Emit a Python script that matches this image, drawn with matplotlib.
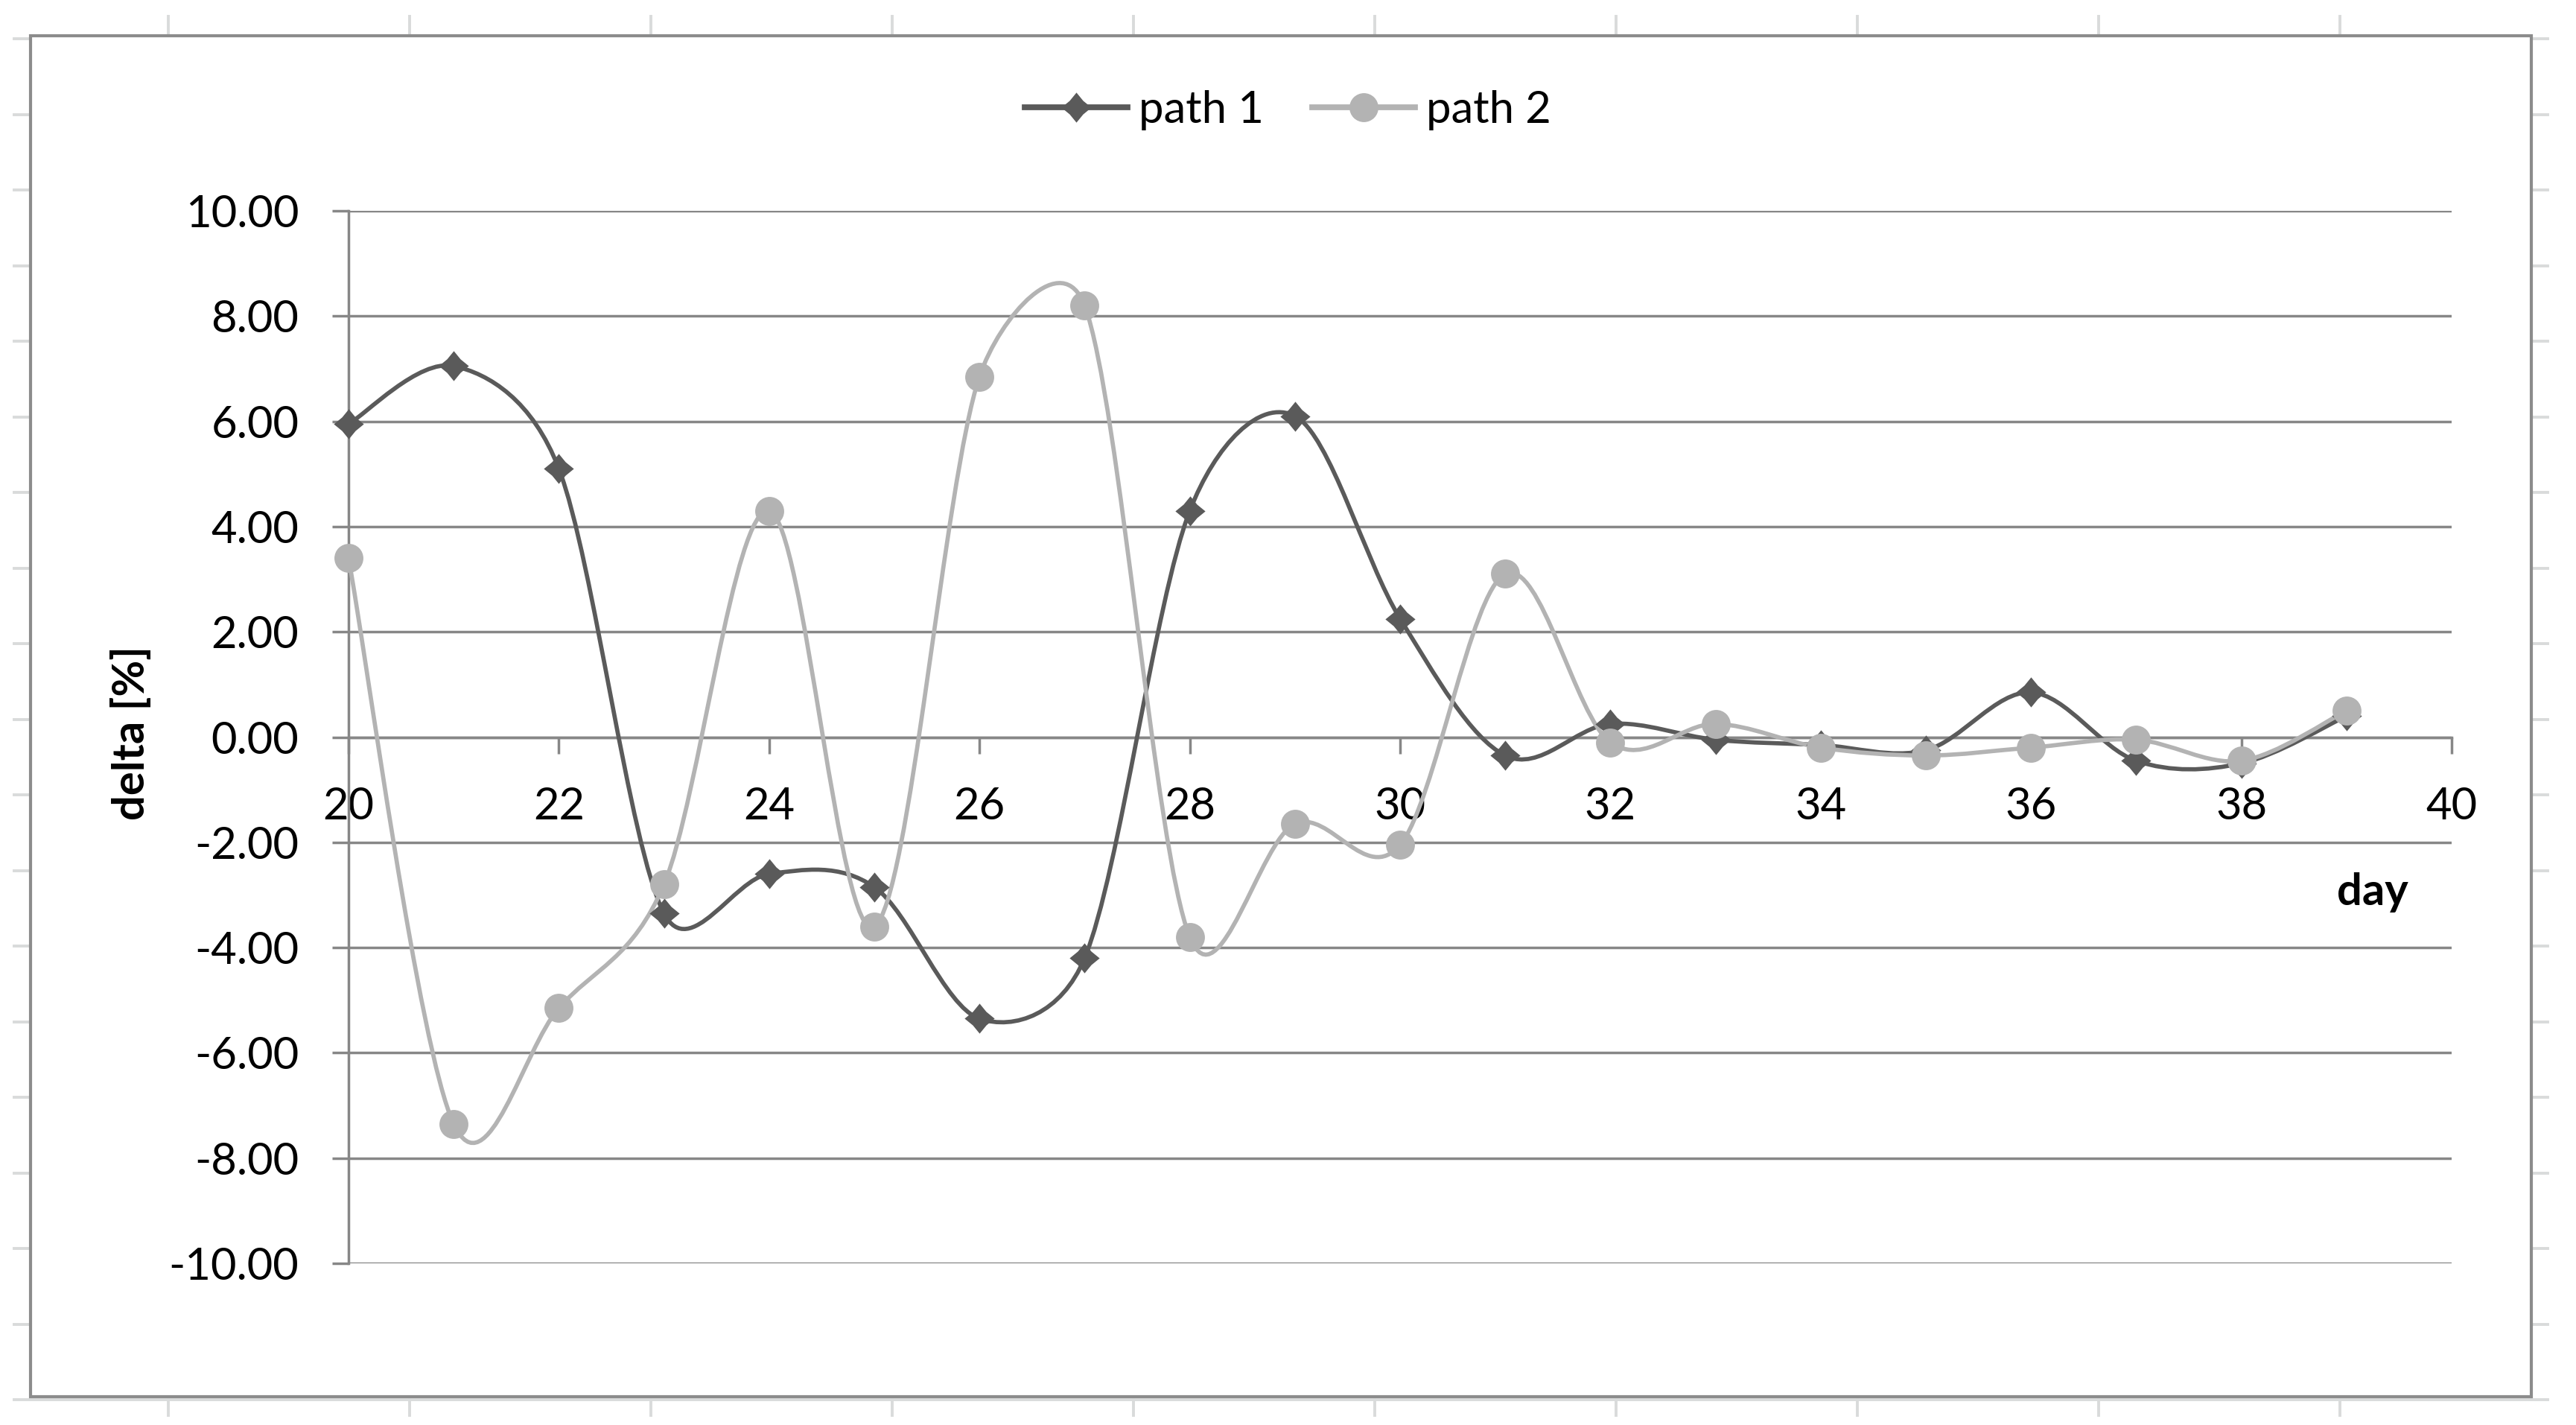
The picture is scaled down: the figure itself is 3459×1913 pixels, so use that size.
import numpy as np
import matplotlib
matplotlib.use("Agg")
import matplotlib.pyplot as plt
from matplotlib.path import Path
from matplotlib.patches import PathPatch, Rectangle
from matplotlib.lines import Line2D
from matplotlib.ticker import FormatStrFormatter, MultipleLocator

plt.rcParams['font.family'] = ['Lato', 'DejaVu Sans']
plt.rcParams['axes.unicode_minus'] = False

# data
days = [20, 21, 22, 23, 24, 25, 26, 27, 28, 29, 30, 31, 32, 33, 34, 35, 36, 37, 38, 39]
path_1 = [5.95, 7.05, 5.10, -3.35, -2.60, -2.85, -5.35, -4.20, 4.30, 6.10,
          2.25, -0.35, 0.25, -0.05, -0.15, -0.25, 0.85, -0.45, -0.50, 0.40]
path_2 = [3.40, -7.35, -5.15, -2.80, 4.30, -3.60, 6.85, 8.20, -3.80, -1.65,
          -2.05, 3.10, -0.10, 0.25, -0.20, -0.35, -0.20, -0.05, -0.45, 0.50]
series_names = ["path 1", "path 2"]

W, H = 3459, 1913
DPI = 200
GRAY = '#878787'
DARK = '#5a5a5a'
LIGHT = '#b3b3b3'
FS = 21.5

fig = plt.figure(figsize=(W / DPI, H / DPI), dpi=DPI)


def fx(px):
    return px / W


def fy(py):
    return 1 - py / H


# spreadsheet cells showing around the chart
sheet = '#d9dbdb'
for k in range(10):
    x = 226 + 324 * k
    fig.add_artist(Line2D([fx(x), fx(x)], [fy(22), fy(1900)], color=sheet, lw=1.4, zorder=-3))
for k in range(19):
    y = 52 + 101.5 * k
    fig.add_artist(Line2D([fx(19), fx(3421)], [fy(y), fy(y)], color=sheet, lw=1.4, zorder=-3))

# chart area
fig.add_artist(Rectangle((fx(41), fy(1875)), fx(3399) - fx(41), fy(48) - fy(1875),
                         facecolor='white', edgecolor='#8c8c8c', lw=1.5, zorder=-1))

ax = fig.add_axes([fx(468), fy(1696), fx(3292) - fx(468), fy(283) - fy(1696)])
ax.set_xlim(20, 40)
ax.set_ylim(-10, 10)
ax.patch.set_visible(False)

ax.xaxis.set_major_locator(MultipleLocator(2))
ax.yaxis.set_major_locator(MultipleLocator(2))
ax.yaxis.set_major_formatter(FormatStrFormatter('%.2f'))
ax.grid(axis='y', color=GRAY, lw=1.25)
ax.set_axisbelow(True)
for s in ['top', 'right']:
    ax.spines[s].set_visible(False)
ax.spines['bottom'].set_position(('data', 0))
for s in ['left', 'bottom']:
    ax.spines[s].set_color(GRAY)
    ax.spines[s].set_linewidth(1.25)
ax.tick_params(axis='both', direction='out', length=8, width=1.25, color=GRAY,
               labelsize=FS, pad=16, labelcolor='black')


def excel_smooth(xs, ys):
    # bezier curve like excel's smoothed line, built in screen space
    pts = ax.transData.transform(np.column_stack([xs, ys]))
    n = len(pts)
    verts = [pts[0]]
    codes = [Path.MOVETO]
    for i in range(n - 1):
        p0 = pts[max(i - 1, 0)]
        p1 = pts[i]
        p2 = pts[i + 1]
        p3 = pts[min(i + 2, n - 1)]
        half = np.hypot(*(p2 - p1)) / 2
        a1 = (p2 - p0) / 6
        a2 = (p3 - p1) / 6
        l1 = np.hypot(*a1)
        l2 = np.hypot(*a2)
        if l1 > half:
            a1 = a1 * half / l1
        if l2 > half:
            a2 = a2 * half / l2
        verts += [p1 + a1, p2 - a2, p2]
        codes += [Path.CURVE4] * 3
    verts = ax.transData.inverted().transform(np.array(verts))
    return Path(verts, codes)


# slightly pinched diamond, like excel's
q = 0.45
diamond = [(0, 1), (q, q), (1, 0), (q, -q), (0, -1), (-q, -q), (-1, 0), (-q, q), (0, 1)]

styles = [(path_1, DARK, diamond, 14.5), (path_2, LIGHT, 'o', 14)]
handles = []
for (vals, col, mk, ms), name in zip(styles, series_names):
    ax.add_patch(PathPatch(excel_smooth(days, vals), fill=False, edgecolor=col,
                           lw=2.05, capstyle='round', joinstyle='round', zorder=3))
    ax.plot(days, vals, linestyle='none', marker=mk, ms=ms, color=col,
            markeredgewidth=0, zorder=4, clip_on=False)
    handles.append(Line2D([], [], color=col, lw=2.8, marker=mk, ms=ms, markeredgewidth=0))

ax.legend(handles, series_names, loc='center', bbox_to_anchor=(0.5, fy(148)),
          bbox_transform=fig.transFigure, ncol=2, frameon=False, fontsize=FS,
          handlelength=2.3, handletextpad=0.25, columnspacing=1.1)

ax.text(39.25, -2.95, "day", ha='center', va='center', fontsize=FS, fontweight='bold')
fig.text(fx(176), fy(984), "delta [%]", rotation=90, ha='center', va='center',
         fontsize=FS, fontweight='bold')

fig.savefig("out.png", dpi=DPI)
